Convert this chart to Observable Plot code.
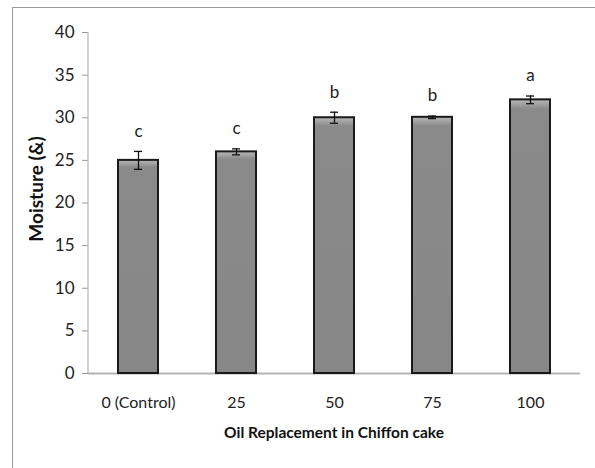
<!DOCTYPE html>
<html>
<head>
<meta charset="utf-8">
<script src="https://cdn.jsdelivr.net/npm/d3@7"></script>
<script src="https://cdn.jsdelivr.net/npm/@observablehq/plot@0.6"></script>
<style>
  html, body { margin: 0; padding: 0; background: #fff; overflow: hidden; width: 595px; height: 468px; }
  #wrap { position: relative; width: 595px; height: 468px; }
  #box { position: absolute; left: 12px; top: 7px; width: 620px; height: 500px; border: 1.5px solid #9a9a9a; box-sizing: border-box; }
  #chart { position: absolute; left: 0; top: 0; }
</style>
</head>
<body>
<div id="wrap"><div id="box"></div><div id="chart"></div></div>
<script>
const categories = ["0 (Control)", "25", "50", "75", "100"];
const moisture = [25.0, 26.0, 30.0, 30.05, 32.1];
const errors = [1.05, 0.35, 0.65, 0.15, 0.45];
const letters = ["c", "c", "b", "b", "a"];
const yTicks = [0, 5, 10, 15, 20, 25, 30, 35, 40];
const xTitle = "Oil Replacement in Chiffon cake";
const yTitle = "Moisture (&)";

const data = categories.map((c, i) => ({cat: c, v: moisture[i], e: errors[i], lab: letters[i]}));

const font = "Lato, 'Open Sans', sans-serif";

const chart = Plot.plot({
  width: 595,
  height: 468,
  marginLeft: 88,
  marginRight: 15,
  marginTop: 32,
  marginBottom: 95,
  style: {fontFamily: font, fontSize: "16px", color: "#222", background: "transparent", overflow: "visible"},
  x: {domain: categories, paddingInner: 0.59, paddingOuter: 0.3, label: null},
  y: {domain: [0, 40], label: null},
  marks: [
    () => {
      const defs = d3.create("svg:defs");
      const lg = defs.append("linearGradient").attr("id", "barGrad").attr("x1", 0).attr("x2", 0).attr("y1", 0).attr("y2", 1);
      lg.append("stop").attr("offset", "0").attr("stop-color", "#b8b8b8");
      lg.append("stop").attr("offset", "0.035").attr("stop-color", "#8a8a8a");
      lg.append("stop").attr("offset", "1").attr("stop-color", "#878787");
      return defs.node();
    },
    Plot.axisY({ticks: yTicks, tickSize: 6, tickPadding: 8, stroke: "#999", fill: "#222", fontSize: 17, label: null}),
    Plot.axisX({tickSize: 0, tickPadding: 23, fill: "#222", fontSize: 16, label: null}),
    Plot.ruleY([0], {stroke: "#b5b5b5", strokeWidth: 2}),
    (index, scales, values, dims) => {
      const g = d3.create("svg:g").attr("font-family", font);
      g.append("line")
        .attr("x1", dims.marginLeft).attr("x2", dims.marginLeft)
        .attr("y1", dims.marginTop).attr("y2", dims.height - dims.marginBottom)
        .attr("stroke", "#b5b5b5").attr("stroke-width", 1.2);
      g.append("text")
        .attr("transform", `translate(43,189) rotate(-90)`)
        .attr("text-anchor", "middle")
        .attr("font-weight", "bold").attr("font-size", 19).attr("fill", "#111")
        .text(yTitle);
      g.append("text")
        .attr("x", 334)
        .attr("y", 438)
        .attr("text-anchor", "middle")
        .attr("font-weight", "bold").attr("font-size", 15.5).attr("fill", "#111")
        .text(xTitle);
      return g.node();
    },
    Plot.barY(data, {x: "cat", y: "v", fill: "url(#barGrad)", stroke: "#1a1a1a", strokeWidth: 2}),
    Plot.ruleX(data, {x: "cat", y1: d => d.v - d.e, y2: d => d.v + d.e, stroke: "#111", strokeWidth: 1.3}),
    Plot.tickY(data, {x: "cat", y: d => d.v - d.e, stroke: "#111", strokeWidth: 1.3, insetLeft: 16, insetRight: 16}),
    Plot.tickY(data, {x: "cat", y: d => d.v + d.e, stroke: "#111", strokeWidth: 1.3, insetLeft: 16, insetRight: 16}),
    Plot.text(data, {x: "cat", y: d => d.v + d.e, text: "lab", dy: -20, fontSize: 17, fill: "#222"})
  ]
});
document.getElementById("chart").appendChild(chart);
</script>
</body>
</html>
